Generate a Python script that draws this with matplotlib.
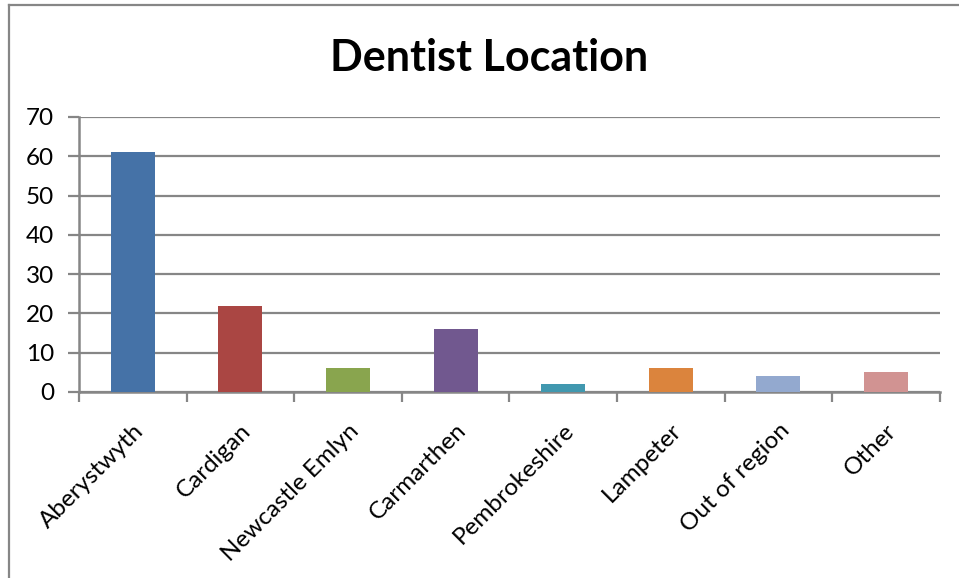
import matplotlib.pyplot as plt
from matplotlib.lines import Line2D

# Dentist location counts
locations = ["Aberystwyth", "Cardigan", "Newcastle Emlyn", "Carmarthen",
             "Pembrokeshire", "Lampeter", "Out of region", "Other"]
counts = [61, 22, 6, 16, 2, 6, 4, 5]
bar_colors = ["#4572A7", "#AA4643", "#89A54E", "#71588F",
              "#4198AF", "#DB843D", "#93A9CF", "#D19392"]
y_ticks = [0, 10, 20, 30, 40, 50, 60, 70]

plt.rcParams["font.family"] = ["Lato", "DejaVu Sans"]
grey = "#868686"

fig = plt.figure(figsize=(9.59, 5.78), dpi=100)
ax = fig.add_axes([0.0824, 0.3218, 0.8976, 0.4758])

x = range(len(locations))
ax.bar(x, counts, width=0.41, color=bar_colors, zorder=3)

ax.set_xlim(-0.5, len(locations) - 0.5)
ax.set_ylim(0, 70)
ax.set_yticks(y_ticks)
ax.yaxis.grid(True, color=grey, linewidth=1.6, zorder=0)

ax.set_xticks(list(x))
ax.set_xticklabels(locations, rotation=45, ha="right", va="top",
                   rotation_mode="anchor", fontsize=17.5)
ax.set_xticks([i - 0.5 for i in range(len(locations) + 1)], minor=True)
ax.tick_params(axis="x", which="major", length=0, pad=20)
ax.tick_params(axis="x", which="minor", length=7, width=1.6, color=grey)
ax.tick_params(axis="y", length=8, width=1.6, color=grey, labelsize=17.5, pad=10)

for side in ["top", "right"]:
    ax.spines[side].set_visible(False)
for side in ["left", "bottom"]:
    ax.spines[side].set_color(grey)
    ax.spines[side].set_linewidth(1.8)

fig.text(0.51, 0.90, "Dentist Location", ha="center", va="center",
         fontsize=31, fontweight="bold")

# chart frame (top and left edges only are visible in the original)
fig.add_artist(Line2D([0.0094, 0.9995], [0.991, 0.991], color=grey,
                      linewidth=1.6, transform=fig.transFigure))
fig.add_artist(Line2D([0.0094, 0.0094], [0.0, 0.991], color=grey,
                      linewidth=1.6, transform=fig.transFigure))

fig.savefig("out.png", dpi=100)
